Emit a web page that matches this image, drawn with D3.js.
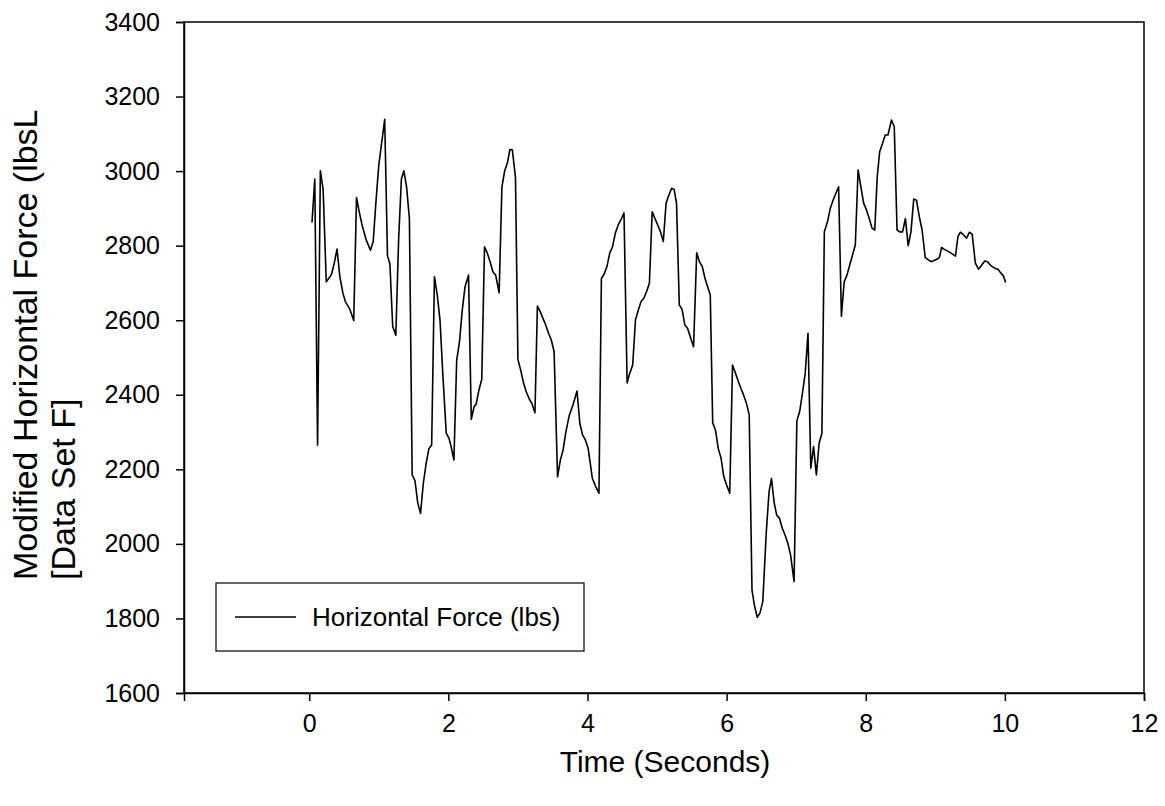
<!DOCTYPE html>
<html><head><meta charset="utf-8">
<script src="https://cdn.jsdelivr.net/npm/d3@7"></script>
<style>
html,body{margin:0;padding:0;background:#fff;}
text{font-family:Arial,"Liberation Sans",sans-serif;fill:#000;}
</style></head>
<body><svg id="chart" width="1165" height="806"></svg>
<script>
const seriesName = "Horizontal Force (lbs)";
const xTitle = "Time (Seconds)";
const yTitleLines = ["Modified Horizontal Force (lbsL", "[Data Set F]"];
const xTicks = [0, 2, 4, 6, 8, 10, 12];
const yTicks = [1600, 1800, 2000, 2200, 2400, 2600, 2800, 3000, 3200, 3400];
const time = [
0.04,0.08,0.12,0.16,0.20,0.245,0.28,0.32,0.36,0.40,0.44,0.485,0.52,0.585,0.64,0.68,0.72,0.76,0.82,0.88,
0.92,0.96,1.00,1.085,1.125,1.16,1.20,1.245,1.285,1.325,1.36,1.40,1.44,1.48,1.52,1.56,1.60,1.64,1.68,1.72,
1.76,1.80,1.84,1.88,1.92,1.97,2.01,2.04,2.08,2.12,2.16,2.20,2.24,2.29,2.33,2.37,2.40,2.44,2.48,2.52,
2.56,2.60,2.64,2.68,2.73,2.77,2.81,2.85,2.885,2.92,2.965,3.00,3.04,3.08,3.12,3.165,3.20,3.245,3.28,3.32,
3.36,3.40,3.44,3.48,3.52,3.57,3.61,3.65,3.69,3.74,3.79,3.85,3.89,3.93,3.97,4.01,4.04,4.07,4.12,4.165,
4.20,4.24,4.28,4.32,4.36,4.40,4.44,4.49,4.525,4.57,4.60,4.65,4.69,4.73,4.77,4.81,4.85,4.89,4.93,4.97,
5.01,5.05,5.09,5.13,5.17,5.21,5.245,5.28,5.32,5.36,5.40,5.44,5.485,5.525,5.57,5.61,5.65,5.69,5.72,5.765,
5.80,5.84,5.88,5.92,5.96,6.00,6.045,6.085,6.125,6.17,6.21,6.245,6.285,6.325,6.365,6.40,6.44,6.48,6.52,6.57,
6.61,6.645,6.685,6.72,6.76,6.80,6.84,6.88,6.92,6.97,7.01,7.05,7.09,7.13,7.17,7.21,7.25,7.29,7.33,7.37,
7.405,7.45,7.49,7.53,7.57,7.61,7.65,7.69,7.73,7.77,7.81,7.85,7.89,7.93,7.97,8.01,8.05,8.09,8.13,8.165,
8.20,8.245,8.28,8.32,8.37,8.41,8.45,8.49,8.53,8.57,8.61,8.65,8.69,8.73,8.77,8.81,8.855,8.90,8.94,8.98,
9.03,9.06,9.09,9.13,9.21,9.29,9.325,9.36,9.40,9.45,9.49,9.53,9.575,9.62,9.66,9.71,9.75,9.79,9.82,9.86,
9.90,9.94,9.98,10.01];
const force = [
2862,2979,2265,3001,2951,2703,2712,2723,2753,2791,2717,2672,2650,2629,2599,2929,2890,2855,2815,2788,
2811,2920,3016,3139,2773,2751,2583,2560,2815,2979,3001,2957,2873,2185,2170,2110,2082,2162,2215,2255,
2265,2717,2668,2601,2457,2297,2283,2261,2225,2493,2542,2627,2690,2721,2334,2368,2375,2413,2441,2797,
2780,2757,2730,2721,2674,2957,3001,3023,3058,3057,2983,2495,2466,2432,2408,2388,2377,2352,2638,2623,
2605,2587,2565,2547,2516,2180,2225,2252,2301,2346,2372,2410,2323,2292,2279,2256,2216,2176,2153,2136,
2712,2724,2744,2780,2797,2833,2855,2873,2888,2432,2453,2480,2601,2627,2650,2659,2677,2699,2891,2873,
2855,2837,2811,2914,2936,2954,2951,2914,2641,2629,2587,2578,2551,2529,2781,2757,2744,2712,2694,2668,
2325,2305,2256,2230,2180,2158,2136,2480,2459,2435,2415,2399,2377,2346,1876,1835,1803,1815,1845,2030,
2140,2175,2109,2077,2069,2042,2024,2002,1970,1899,2330,2355,2404,2458,2565,2203,2261,2185,2270,2297,
2837,2864,2900,2922,2940,2958,2611,2703,2721,2748,2775,2802,3003,2958,2914,2896,2873,2847,2842,2985,
3052,3076,3097,3097,3137,3119,2842,2837,2837,2873,2800,2837,2925,2922,2878,2842,2768,2762,2757,2760,
2764,2769,2795,2790,2782,2772,2824,2836,2830,2820,2836,2831,2754,2737,2746,2759,2757,2748,2744,2739,
2737,2727,2719,2701];

const L = 184, R = 1144, T = 22, B = 693;
const svg = d3.select("#chart");
const x = d3.scaleLinear().domain([-1.8, 12]).range([L, R]);
const y = d3.scaleLinear().domain([1600, 3400]).range([B, T]);

// frame
svg.append("rect").attr("x", L).attr("y", T).attr("width", R - L).attr("height", B - T)
  .attr("fill", "none").attr("stroke", "#000").attr("stroke-width", 1.5);

const xAxis = svg.append("g").attr("transform", `translate(0,${B})`)
  .call(d3.axisBottom(x).tickValues(xTicks).tickSize(8).tickPadding(13).tickFormat(d3.format("d")));
const yAxis = svg.append("g").attr("transform", `translate(${L},0)`)
  .call(d3.axisLeft(y).tickValues(yTicks).tickSize(8).tickPadding(16).tickFormat(d3.format("d")));
[xAxis, yAxis].forEach(g => {
  g.select(".domain").attr("stroke", "#000").attr("stroke-width", 1.5);
  g.selectAll(".tick line").attr("stroke", "#000").attr("stroke-width", 1.5);
  g.selectAll(".tick text").attr("font-size", 25).attr("font-family", "Arial, 'Liberation Sans', sans-serif").attr("fill", "#000");
});

// line
const data = time.map((t, i) => ({t, v: force[i]}));
svg.append("path").datum(data)
  .attr("fill", "none").attr("stroke", "#000").attr("stroke-width", 1.6).attr("stroke-linejoin", "round")
  .attr("d", d3.line().x(d => x(d.t)).y(d => y(d.v)));

// titles
svg.append("text").attr("x", 665).attr("y", 772)
  .attr("text-anchor", "middle").attr("font-size", 30).text(xTitle);
const yt = svg.append("text").attr("transform", "translate(37,580) rotate(-90)")
  .attr("font-size", 34);
yt.append("tspan").attr("x", 0).attr("y", 0).text(yTitleLines[0]);
yt.append("tspan").attr("x", 0).attr("y", 38).text(yTitleLines[1]);

// legend
svg.append("rect").attr("x", 216).attr("y", 583).attr("width", 368).attr("height", 68)
  .attr("fill", "#fff").attr("stroke", "#000").attr("stroke-width", 1.2);
svg.append("line").attr("x1", 235).attr("x2", 296).attr("y1", 617).attr("y2", 617)
  .attr("stroke", "#000").attr("stroke-width", 1.6);
svg.append("text").attr("x", 312).attr("y", 626).attr("font-size", 26).text(seriesName);
</script></body></html>
